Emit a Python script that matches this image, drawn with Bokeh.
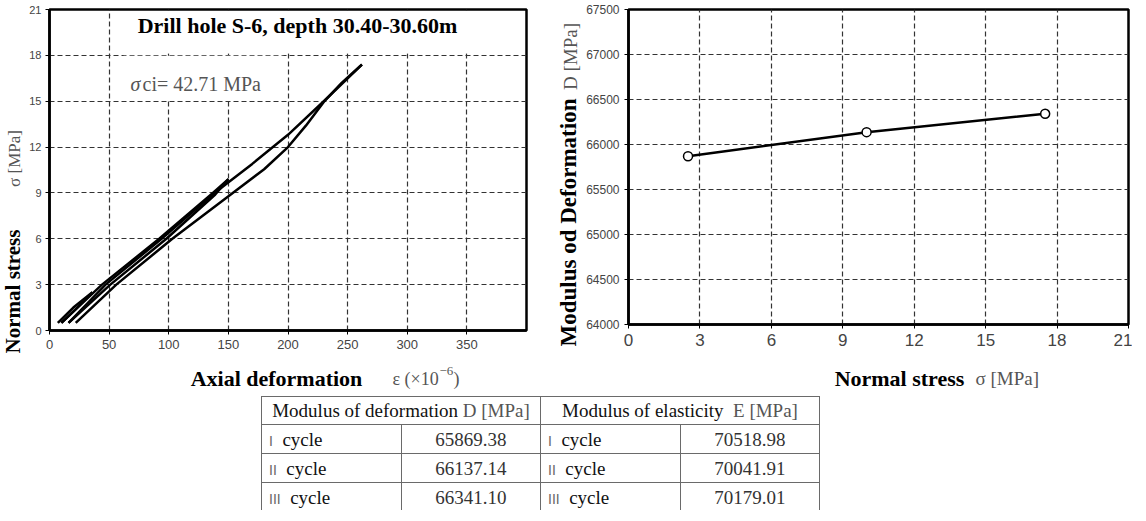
import math
from bokeh.plotting import figure
from bokeh.models import FixedTicker, Label, BoxAnnotation, Div
from bokeh.layouts import column, row
from bokeh.core.properties import value
from bokeh.embed import file_html
from bokeh.resources import INLINE

# ---------------- data ----------------
# Left chart: loading / unloading cycles (axial strain x1e-6, normal stress MPa)
c1_load_strain = [7, 20, 36]
c1_load_stress = [0.5, 1.5, 2.5]
c1_unload_strain = [36, 22, 10]
c1_unload_stress = [2.5, 1.4, 0.5]
c2_load_strain = [10, 44, 92, 137, 150]
c2_load_stress = [0.5, 3.0, 6.0, 9.0, 9.9]
c2_unload_strain = [150, 139, 98, 51, 16]
c2_unload_stress = [9.9, 8.9, 6.0, 3.0, 0.5]
c3_load_strain = [16, 47, 94, 140, 170, 200, 230, 262]
c3_load_stress = [0.5, 3.0, 6.0, 9.1, 10.9, 12.8, 15.0, 17.4]
c3_unload_strain = [262, 245, 230, 215, 200, 180, 152, 103, 56, 22]
c3_unload_stress = [17.4, 16.2, 14.95, 13.4, 12.0, 10.55, 8.9, 6.0, 3.0, 0.5]

left_x_ticks = [0, 50, 100, 150, 200, 250, 300, 350]
left_y_ticks = [0, 3, 6, 9, 12, 15, 18, 21]

# Right chart / table
cycles = ["I", "II", "III"]
stress_levels = [2.5, 10.0, 17.5]
modulus_D = [65869.38, 66137.14, 66341.10]
modulus_E = [70518.98, 70041.91, 70179.01]
right_x_ticks = [0, 3, 6, 9, 12, 15, 18, 21]
right_y_ticks = [64000, 64500, 65000, 65500, 66000, 66500, 67000, 67500]

title_text = "Drill hole S-6, depth 30.40-30.60m"
sigma_ci_text = "ci= 42.71 MPa"

SERIF = "Liberation Serif"
SANS = "Liberation Sans"
GRAY = "#555555"
M = 8  # page margin


def style(p, xticks, yticks, xfs, yfs):
    p.xaxis.ticker = FixedTicker(ticks=xticks)
    p.yaxis.ticker = FixedTicker(ticks=yticks)
    for ax, fs in ((p.xaxis, xfs), (p.yaxis, yfs)):
        ax.axis_line_color = "black"
        ax.axis_line_width = 2.5
        ax.major_tick_line_color = "black"
        ax.major_tick_in = 0
        ax.major_tick_out = 4
        ax.minor_tick_line_color = None
        ax.major_label_text_font = SANS
        ax.major_label_text_font_size = fs
        ax.major_label_text_color = "#444444"
    p.xaxis.major_label_standoff = 5
    p.yaxis.major_label_standoff = 4
    for g in (p.xgrid, p.ygrid):
        g.grid_line_color = "#333333"
        g.grid_line_dash = "5 3"
        g.grid_line_width = 1.2
    p.outline_line_color = "black"
    p.outline_line_width = 2.5
    p.outline_line_alpha = 1.0
    p.background_fill_color = "white"
    p.border_fill_color = "white"


class Strip:
    """A blank figure holding axis titles; x0, y0 and text positions in page pixels."""

    def __init__(self, x0, y0, w, h):
        self.x0, self.y0, self.h = x0, y0, h
        s = figure(frame_width=w, frame_height=h, x_range=(0, w), y_range=(0, h),
                   min_border=0, x_axis_location=None, y_axis_location=None,
                   toolbar_location=None, output_backend="svg")
        s.grid.visible = False
        s.outline_line_color = None
        s.background_fill_color = "white"
        s.border_fill_color = "white"
        self.fig = s

    def text(self, px, py, txt, size, color="black", bold=False, angle=0.0,
             align="center", baseline="middle"):
        self.fig.text(x=[px - self.x0], y=[self.y0 + self.h - py], text=[txt], angle=angle,
                      text_align=align, text_baseline=baseline,
                      text_font=value(SERIF), text_font_size=value(size),
                      text_font_style="bold" if bold else "normal", text_color=color)


ROW_H = 354  # page y 8..362

# ---------------- left chart (frame page x 56..533, y 15..336) ----------------
LX0, LX1, LY0, LY1 = 0, 400, 0, 21
LFW, LFH = 477, 321
p1 = figure(frame_width=LFW, frame_height=LFH, x_range=(LX0, LX1), y_range=(LY0, LY1),
            output_backend="svg", toolbar_location=None,
            min_border_left=22, min_border_right=20, min_border_top=7, min_border_bottom=26)
style(p1, left_x_ticks, left_y_ticks, "13px", "11px")


def lpx_to_data(px, py):
    return (LX0 + (px - 56) * (LX1 - LX0) / LFW, LY1 - (py - 15) * (LY1 - LY0) / LFH)


for xs, ys in ((c1_load_strain, c1_load_stress), (c1_unload_strain, c1_unload_stress),
               (c2_load_strain, c2_load_stress), (c2_unload_strain, c2_unload_stress),
               (c3_load_strain, c3_load_stress), (c3_unload_strain, c3_unload_stress)):
    p1.line(xs, ys, line_color="black", line_width=2.5, line_join="round")

# white text boxes hiding the grid behind the texts (as in the original)
bx0, by0 = lpx_to_data(130, 60)
p1.add_layout(BoxAnnotation(left=bx0, right=LX1 - 1.5, bottom=by0 + 0.08, top=LY1 - 0.1,
                            fill_color="white", fill_alpha=1, line_alpha=0))
sx1, sy1 = lpx_to_data(290, 107)
p1.add_layout(BoxAnnotation(left=bx0, right=sx1, bottom=sy1 + 0.08, top=by0 - 0.08,
                            fill_color="white", fill_alpha=1, line_alpha=0))

tx, ty = lpx_to_data(304, 31)
p1.add_layout(Label(x=tx, y=ty, text=title_text, text_align="center", text_baseline="middle",
                    text_font=SERIF, text_font_style="bold", text_font_size="22px", text_color="black"))
sx, sy = lpx_to_data(137, 89)
p1.add_layout(Label(x=sx, y=sy, text="σ", text_align="left", text_baseline="middle",
                    text_font=SERIF, text_font_style="italic", text_font_size="20px", text_color=GRAY))
sx2, _ = lpx_to_data(149, 89)
p1.add_layout(Label(x=sx2, y=sy, text=sigma_ci_text, text_align="left", text_baseline="middle",
                    text_font=SERIF, text_font_size="20px", text_color=GRAY))

# ---------------- right chart (frame page x 634..1134, y 17..332) ----------------
RX0, RX1, RY0, RY1 = 0, 21, 64000, 67500
RFW, RFH = 500, 315
p2 = figure(frame_width=RFW, frame_height=RFH, x_range=(RX0, RX1), y_range=(RY0, RY1),
            output_backend="svg", toolbar_location=None,
            min_border_left=44, min_border_right=4, min_border_top=9, min_border_bottom=30)
style(p2, right_x_ticks, right_y_ticks, "17px", "12px")
p2.yaxis.major_label_standoff = 5

p2.line(stress_levels, modulus_D, line_color="black", line_width=2.5)
p2.scatter(stress_levels, modulus_D, marker="circle", size=9, fill_color="white",
           line_color="black", line_width=1.5)

# ---------------- axis-title strips (page coordinates) ----------------
yl1 = Strip(M, M, 26, ROW_H)
yl1.text(20, 290, "Normal stress", "21px", bold=True, angle=math.pi / 2)
yl1.text(22, 157, "σ [MPa]", "17px", color=GRAY, angle=math.pi / 2)

yl2 = Strip(553, M, 37, ROW_H)
yl2.text(575, 221, "Modulus od Deformation", "23px", bold=True, angle=math.pi / 2)
yl2.text(577, 55, "D [MPa]", "19px", color=GRAY, angle=math.pi / 2)

XL_Y0, XL_H = M + ROW_H, 37  # page y 362..399
xl = Strip(M, XL_Y0, 1130, XL_H)
xl.text(284, 386, "Axial deformation", "22px", bold=True, baseline="alphabetic")
xl.text(400, 386, "ε (×10", "18px", color=GRAY, align="left", baseline="alphabetic")
xl.text(447, 378, "−6", "13px", color=GRAY, align="left", baseline="alphabetic")
xl.text(461, 386, ")", "18px", color=GRAY, align="left", baseline="alphabetic")
xl.text(907, 386, "Normal stress", "22px", bold=True, baseline="alphabetic")
xl.text(983, 386, "σ [MPa]", "19px", color=GRAY, align="left", baseline="alphabetic")

# ---------------- table (page x 264..823, y 399..513) ----------------
bd = "border:1px solid #6a6a6a;"
cell = "font-family:'%s';font-size:19px;padding:0;" % SERIF
num_style = "font-family:'%s';font-size:14px;color:#666;" % SANS
rows_html = []
for c, d, e in zip(cycles, modulus_D, modulus_E):
    cyc = ('<span style="%s">%s</span>&nbsp;&nbsp;<span style="color:#111">cycle</span>'
           % (num_style, c))
    rows_html.append(
        '<tr style="height:29px">'
        f'<td style="{bd}{cell}width:91px;padding-left:7px;text-align:left">{cyc}</td>'
        f'<td style="{bd}{cell}width:193px;text-align:center;color:#333">{d:.2f}</td>'
        f'<td style="{bd}{cell}width:91px;padding-left:7px;text-align:left">{cyc}</td>'
        f'<td style="{bd}{cell}width:184px;text-align:center;color:#333">{e:.2f}</td>'
        '</tr>')
html = (
    '<table style="border-collapse:collapse;table-layout:fixed;margin-left:%dpx;margin-top:0;'
    'width:559px;background:white;color:#111">' % (264 - M) +
    '<tr style="height:28px">'
    f'<td colspan="2" style="{bd}{cell}text-align:center">Modulus of deformation '
    f'<span style="color:{GRAY}">D [MPa]</span></td>'
    f'<td colspan="2" style="{bd}{cell}text-align:center">Modulus of elasticity&nbsp; '
    f'<span style="color:{GRAY}">E [MPa]</span></td>'
    '</tr>' + "".join(rows_html) + '</table>')
table_div = Div(text=html, width=1130, height=114, styles={"overflow": "hidden"})

layout = column(row(yl1.fig, p1, yl2.fig, p2), xl.fig, table_div)
open("out.html", "w").write(file_html(layout, INLINE))
